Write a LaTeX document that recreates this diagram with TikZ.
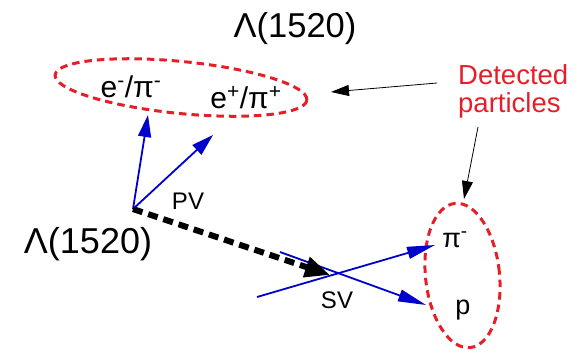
\documentclass[tikz,border=0pt]{standalone}
\usepackage{fontspec}
\setmainfont{Liberation Sans}
\usetikzlibrary{arrows.meta,shapes.geometric}
\definecolor{detred}{RGB}{230,30,40}
\definecolor{trkblue}{RGB}{0,0,205}
\newcommand\fs[1]{\fontsize{#1}{#1}\selectfont}
\begin{document}
\begin{tikzpicture}[x=1pt,y=-1pt,
  lbl/.style={inner sep=0pt,anchor=base},
  grp/.style={draw=detred,ellipse,line width=3pt,dash pattern=on 7.5pt off 5pt,inner sep=0pt},
  trk/.style={draw=trkblue,line width=1.8pt,-{Triangle[length=22pt,width=13pt]},trkblue},
  trkl/.style={draw=trkblue,line width=1.8pt,-{Triangle[length=28pt,width=12pt]},trkblue},
  flight/.style={draw=black,line width=6pt,dash pattern=on 10pt off 6pt,-{Triangle[length=25pt,width=20pt]}},
  note/.style={draw=black,line width=0.8pt,-{Triangle[length=18pt,width=11pt]}}]
\useasboundingbox (0,0) rectangle (578,354);
% ellipses
\node[grp,minimum width=253pt,minimum height=52pt,rotate=-5.7] (top) at (181,87.5) {};
\node[grp,minimum width=74pt,minimum height=145pt,rotate=6] (right) at (462.5,275.5) {};
% texts
\node[lbl,font=\fs{34.5}] (lamtop) at (295,37) {Λ(1520)};
\node[lbl,font=\fs{36}] (lambot) at (88,253) {Λ(1520)};
\node[lbl,font=\fs{30}] (em) at (131,97) {e\textsuperscript{-}/π\textsuperscript{-}};
\node[lbl,font=\fs{30}] (ep) at (246,108) {e\textsuperscript{+}/π\textsuperscript{+}};
\node[lbl,font=\fs{27}] (pim) at (455,247) {π\textsuperscript{-}};
\node[lbl,font=\fs{27}] (pr) at (463,314) {p};
\node[lbl,font=\fs{24}] (pvl) at (188,209) {PV};
\node[lbl,font=\fs{24}] (svl) at (337,308) {SV};
\node[inner sep=0pt,anchor=base west,align=left,text=detred,font=\fs{27.5}] (det) at (458,112) {Detected\\particles};
% points
\coordinate (pv) at (133,209);
\coordinate (sv) at (330,275);
\coordinate (t1) at (148,115);
\coordinate (t2) at (213,135);
\coordinate (a0) at (257,297);
\coordinate (a1) at (435,245);
\coordinate (b0) at (280,252);
\coordinate (b1) at (426,305);
\coordinate (d1) at (437,83);
\coordinate (d1t) at (331,92);
\coordinate (d2) at (478,127);
\coordinate (d2t) at (464,199);
% connectors
\draw[trk] (pv) -- (t1);
\draw[trk] (pv) -- (t2);
\draw[trkl] (a0) -- (a1);
\draw[trkl] (b0) -- (b1);
\draw[flight] (pv) -- (sv);
\draw[note] (d1) -- (d1t);
\draw[note] (d2) -- (d2t);
\end{tikzpicture}
\end{document}
